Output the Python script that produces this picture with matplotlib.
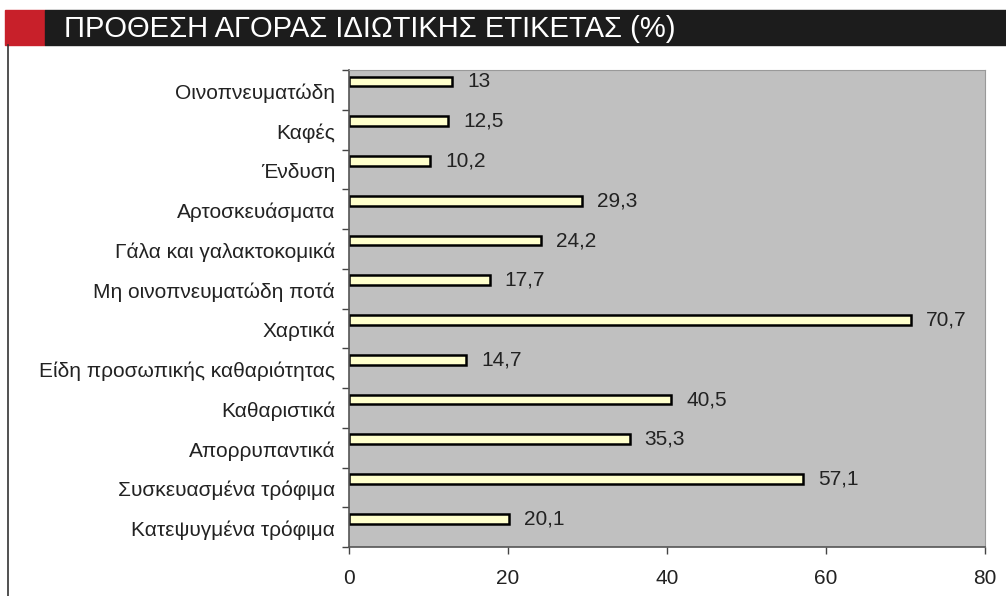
import numpy as np
import matplotlib.pyplot as plt
from matplotlib.patches import Rectangle
from matplotlib.lines import Line2D

plt.rcParams['font.family'] = ['Liberation Sans', 'DejaVu Sans']

# categories top to bottom
categories = ['Οινοπνευματώδη', 'Καφές', 'Ένδυση', 'Αρτοσκευάσματα',
              'Γάλα και γαλακτοκομικά', 'Μη οινοπνευματώδη ποτά', 'Χαρτικά',
              'Είδη προσωπικής καθαριότητας', 'Καθαριστικά', 'Απορρυπαντικά',
              'Συσκευασμένα τρόφιμα', 'Κατεψυγμένα τρόφιμα']
values = [13, 12.5, 10.2, 29.3, 24.2, 17.7, 70.7, 14.7, 40.5, 35.3, 57.1, 20.1]
xticks = [0, 20, 40, 60, 80]

W, H = 1006, 596
fig = plt.figure(figsize=(W / 100, H / 100), dpi=100)

# header bar
fig.patches.append(Rectangle((5 / W, 1 - 45 / H), 40 / W, 35 / H,
                             transform=fig.transFigure, color='#c8202a', zorder=0))
fig.patches.append(Rectangle((45 / W, 1 - 45 / H), 961 / W, 35 / H,
                             transform=fig.transFigure, color='#1c1c1c', zorder=0))
fig.text(64 / W, 1 - 29 / H, 'ΠΡΟΘΕΣΗ ΑΓΟΡΑΣ ΙΔΙΩΤΙΚΗΣ ΕΤΙΚΕΤΑΣ (%)',
         color='white', fontsize=21, va='center', ha='left')
fig.lines.append(Line2D([8 / W, 8 / W], [1 - 45 / H, 0], transform=fig.transFigure,
                        color='#333333', lw=1.2))

ax = fig.add_axes([349 / W, 1 - 547 / H, 636 / W, 477 / H])
ax.set_facecolor('#c0c0c0')
y = np.arange(len(categories))
# bars sit in the upper part of each category slot
yb = y - 0.21
ax.barh(yb, values, height=0.25, color='#ffffcc', edgecolor='black', linewidth=1.8)
for yi, v in zip(yb, values):
    ax.text(v + 1.9, yi, f'{v:g}'.replace('.', ','), va='center', ha='left',
            fontsize=15, color='#222222')

ax.set_xlim(0, 80)
ax.set_ylim(len(categories) - 0.5, -0.5)
ax.set_xticks(xticks)
ax.tick_params(axis='x', length=5, width=1, color='#444444', labelsize=15, pad=11,
               labelcolor='#222222')
ax.set_yticks(y + 0.03)
ax.set_yticklabels(categories, fontsize=15, color='#222222')
ax.set_yticks(np.arange(len(categories) + 1) - 0.5, minor=True)
ax.tick_params(axis='y', which='major', length=0, pad=10)
ax.tick_params(axis='y', which='minor', length=5, width=1, color='#444444')
for s in ['top', 'right']:
    ax.spines[s].set_color('#999999')
for s in ['left', 'bottom']:
    ax.spines[s].set_color('#555555')
    ax.spines[s].set_linewidth(1.2)

fig.savefig('out.png', dpi=100, facecolor='white')
